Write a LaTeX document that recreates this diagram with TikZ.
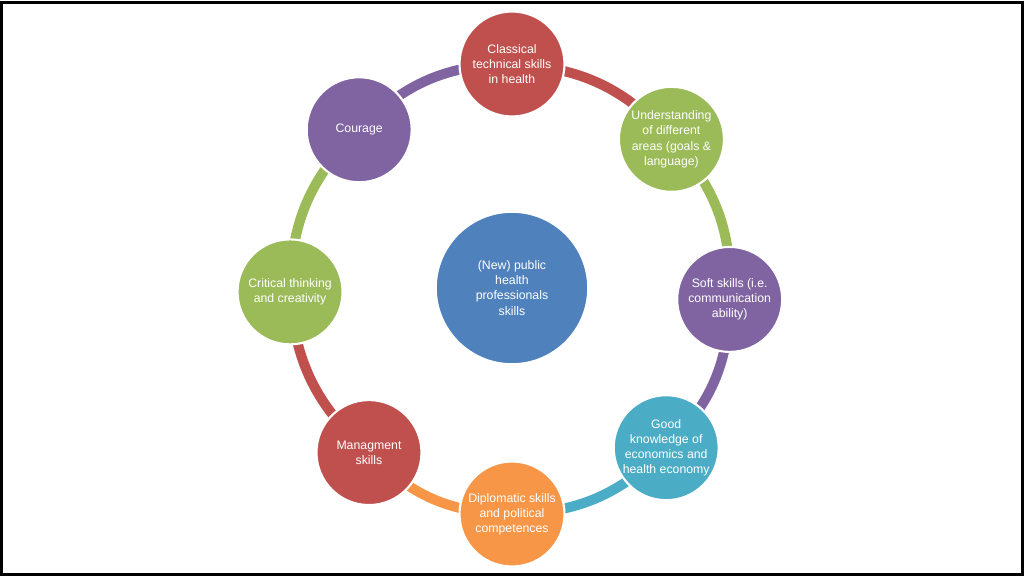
\documentclass[tikz,border=0pt]{standalone}
\usepackage{fontspec}
\setmainfont{Liberation Sans}
\usetikzlibrary{backgrounds}
\definecolor{skred}{HTML}{C0504D}
\definecolor{skgreen}{HTML}{9BBB59}
\definecolor{skpurple}{HTML}{8064A2}
\definecolor{skteal}{HTML}{4BACC6}
\definecolor{skorange}{HTML}{F79646}
\definecolor{skblue}{HTML}{4F81BD}
\tikzset{
  skill/.style = {circle, fill=#1, draw=white, line width=1.2pt, minimum size=2.1cm,
    inner sep=0pt, align=center, text=white, font=\fontsize{7}{8.6}\selectfont},
  ring/.style = {line width=0.2cm, draw=#1, bend left=22.5},
}
\begin{document}
\begin{tikzpicture}[x=0.02cm, y=0.02cm]
  \useasboundingbox (-512,-288) rectangle (512,288);
  \draw[line width=0.06cm] (-510,-286) rectangle (510,286);

  \node[skill=skblue, minimum size=3.05cm] (core) at (0,0) {(New) public\\health\\professionals\\skills};

  \node[skill=skred]    (cls) at (90:224)   {Classical\\technical skills\\in health};
  \node[skill=skgreen]  (und) at (43:218)   {Understanding\\of different\\areas (goals \&\\language)};
  \node[skill=skpurple] (sft) at (-3:218)   {Soft skills (i.e.\\communication\\ability)};
  \node[skill=skteal]   (eco) at (-46:222)  {Good\\knowledge of\\economics and\\health economy};
  \node[skill=skorange] (dip) at (-90:226)  {Diplomatic skills\\and political\\competences};
  \node[skill=skred]    (mgt) at (-131:218) {Managment\\skills};
  \node[skill=skgreen]  (crt) at (181:222)  {Critical thinking\\and creativity};
  \node[skill=skpurple] (cou) at (134:220)  {Courage};

  % ring connectors behind the circles
  \begin{scope}[on background layer]
    \draw[ring=skred]    (cls.center) to (und.center);
    \draw[ring=skgreen]  (und.center) to (sft.center);
    \draw[ring=skpurple] (sft.center) to (eco.center);
    \draw[ring=skteal]   (eco.center) to (dip.center);
    \draw[ring=skorange] (dip.center) to (mgt.center);
    \draw[ring=skred]    (mgt.center) to (crt.center);
    \draw[ring=skgreen]  (crt.center) to (cou.center);
    \draw[ring=skpurple] (cou.center) to (cls.center);
  \end{scope}
\end{tikzpicture}
\end{document}
